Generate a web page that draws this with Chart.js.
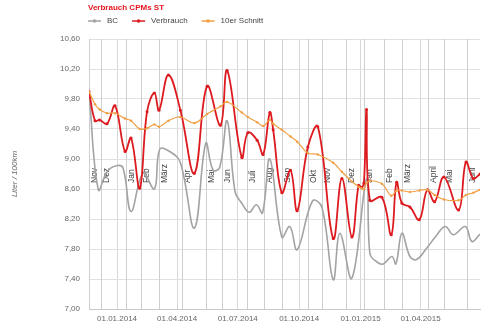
<!DOCTYPE html>
<html>
<head>
<meta charset="utf-8">
<script src="https://cdn.jsdelivr.net/npm/chart.js@4"></script>
<style>
  html, body { margin: 0; padding: 0; background: #fff; }
  #wrap { width: 500px; height: 333px; }
</style>
</head>
<body>
<div id="wrap"><canvas id="fuelChart" width="500" height="333"></canvas></div>
<script>
// Fuel log: one entry per fill-up
const verbrauchDates = [
  '2013-11-20', '2013-11-29', '2013-12-06', '2013-12-17', '2013-12-29', '2014-01-13', '2014-01-22',
  '2014-02-04', '2014-02-15', '2014-02-26', '2014-03-05', '2014-03-19', '2014-04-06', '2014-04-27',
  '2014-05-16', '2014-06-05', '2014-06-15', '2014-07-07', '2014-07-16', '2014-07-30', '2014-08-08',
  '2014-08-18', '2014-08-23', '2014-09-05', '2014-09-18', '2014-09-28', '2014-10-14', '2014-10-29',
  '2014-11-21', '2014-12-04', '2014-12-19', '2014-12-29', '2015-01-02', '2015-01-06', '2015-01-10',
  '2015-01-15', '2015-02-02', '2015-02-16', '2015-02-24', '2015-03-04', '2015-03-16', '2015-03-30',
  '2015-04-11', '2015-04-22', '2015-05-06', '2015-05-28', '2015-06-08', '2015-06-19', '2015-06-29'
];
const verbrauchValues = [
  9.90, 9.51, 9.52, 9.47, 9.71, 9.10, 9.28,
  8.61, 9.63, 9.88, 9.65, 10.12, 9.65, 8.81,
  9.97, 9.45, 10.18, 9.02, 9.35, 9.25, 9.06,
  9.62, 9.39, 8.55, 8.85, 8.31, 9.16, 9.43,
  7.94, 8.74, 7.96, 8.65, 8.62, 8.68, 9.66,
  8.45, 8.49, 7.99, 8.69, 8.41, 8.36, 8.19,
  8.59, 8.43, 8.76, 8.32, 8.96, 8.74, 8.80
];
// rolling average over the last 10 fill-ups
const schnittValues = [
  9.90, 9.73, 9.66, 9.61, 9.61, 9.54, 9.51,
  9.40, 9.41, 9.46, 9.43, 9.51, 9.56, 9.48,
  9.60, 9.70, 9.76, 9.62, 9.56, 9.49, 9.44,
  9.52, 9.47, 9.39, 9.30, 9.23, 9.08, 9.06,
  8.95, 8.83, 8.70, 8.63, 8.61, 8.60, 8.68,
  8.71, 8.67, 8.51, 8.58, 8.58, 8.56, 8.58,
  8.59, 8.52, 8.46, 8.45, 8.52, 8.55, 8.59
];

// on-board computer readings
const bcDates = [
  '2013-11-20', '2013-12-04', '2013-12-17', '2013-12-31', '2014-01-10', '2014-01-22', '2014-02-09',
  '2014-02-26', '2014-03-06', '2014-03-21', '2014-04-06', '2014-04-27', '2014-05-14', '2014-05-25',
  '2014-06-04', '2014-06-15', '2014-06-27', '2014-07-07', '2014-07-18', '2014-07-29', '2014-08-07',
  '2014-08-18', '2014-09-05', '2014-09-17', '2014-09-28', '2014-10-21', '2014-11-04', '2014-11-21',
  '2014-12-01', '2014-12-19', '2015-01-10', '2015-01-15', '2015-01-25', '2015-02-04', '2015-02-17',
  '2015-02-23', '2015-03-04', '2015-03-16', '2015-03-26', '2015-04-10', '2015-04-23', '2015-05-08',
  '2015-05-20', '2015-06-07', '2015-06-17', '2015-06-29'
];
const bcValues = [
  9.90, 8.59, 8.83, 8.91, 8.88, 8.30, 8.81,
  8.60, 9.13, 9.10, 8.95, 8.08, 9.21, 8.85,
  8.89, 9.51, 8.56, 8.41, 8.29, 8.39, 8.28,
  9.00, 7.96, 8.10, 7.79, 8.44, 8.36, 7.39,
  8.01, 7.41, 8.74, 7.74, 7.63, 7.60, 7.70,
  7.60, 8.01, 7.70, 7.66, 7.81, 7.96, 8.10,
  7.99, 8.10, 7.90, 8.00
];

// first fill-up of each month, marked with a plot line
const monthLineDates = [
  '2013-11-20', '2013-12-08', '2014-01-14', '2014-02-06', '2014-03-05', '2014-04-08', '2014-05-14',
  '2014-06-07', '2014-07-15', '2014-08-09', '2014-09-05', '2014-10-14', '2014-11-04', '2014-12-10',
  '2015-01-06', '2015-02-05', '2015-03-04', '2015-04-12', '2015-05-06', '2015-06-10'
];
const monthLineNames = [
  'Nov', 'Dez', 'Jan', 'Feb', 'März', 'Apr', 'Mai',
  'Jun', 'Juli', 'Aug', 'Sep', 'Okt', 'Nov', 'Dez',
  'Jan', 'Feb', 'März', 'April', 'Mai', 'Juni'
];

const axisTickDates = ['2014-01-01', '2014-04-01', '2014-07-01', '2014-10-01', '2015-01-01', '2015-04-01'];
const axisStart = '2013-11-20';
const axisEnd = '2015-06-29';

const FONT = '"Liberation Sans", Arial, sans-serif';
const day = s => Date.parse(s);
const toPoints = (dates, values) => dates.map((d, i) => ({ x: day(d), y: values[i] }));

function fmtDate(ms) {
  const d = new Date(ms);
  const p = n => String(n).padStart(2, '0');
  return p(d.getUTCDate()) + '.' + p(d.getUTCMonth() + 1) + '.' + d.getUTCFullYear();
}

const series = [
  { label: 'BC', color: '#a3a3a3' },
  { label: 'Verbrauch', color: '#dd1a1f' },
  { label: '10er Schnitt', color: '#f0a045' }
];

// month plot lines + rotated labels, drawn under the series
const monthLines = {
  id: 'monthLines',
  beforeDatasetsDraw(chart) {
    const { ctx, chartArea: a, scales: { x } } = chart;
    ctx.save();
    monthLineDates.forEach((d, i) => {
      const px = Math.round(x.getPixelForValue(day(d))) + 0.5;
      ctx.strokeStyle = '#cfcfcf';
      ctx.lineWidth = 1;
      ctx.beginPath();
      ctx.moveTo(px, a.top);
      ctx.lineTo(px, a.bottom);
      ctx.stroke();

      ctx.save();
      ctx.translate(px + 5, 183);
      ctx.rotate(-Math.PI / 2);
      ctx.font = '8.5px ' + FONT;
      ctx.fillStyle = '#444';
      ctx.textAlign = 'left';
      ctx.textBaseline = 'middle';
      ctx.fillText(monthLineNames[i], 0, 0);
      ctx.restore();
    });
    ctx.restore();
  }
};

// title and legend above the plot, Highcharts style
const header = {
  id: 'header',
  afterDraw(chart) {
    const { ctx, chartArea: a } = chart;
    ctx.save();
    ctx.font = 'bold 8px ' + FONT;
    ctx.fillStyle = '#e4141c';
    ctx.textBaseline = 'middle';
    ctx.fillText('Verbrauch CPMs ST', a.left - 1, 8);

    ctx.font = '8px ' + FONT;
    let x = a.left - 1;
    const y = 21;
    series.forEach(s => {
      ctx.strokeStyle = s.color;
      ctx.fillStyle = s.color;
      ctx.lineWidth = 1.5;
      ctx.beginPath();
      ctx.moveTo(x, y);
      ctx.lineTo(x + 13, y);
      ctx.stroke();
      ctx.beginPath();
      ctx.arc(x + 6.5, y, 1.8, 0, Math.PI * 2);
      ctx.fill();
      ctx.fillStyle = '#444';
      ctx.fillText(s.label, x + 19, y);
      x += 19 + ctx.measureText(s.label).width + 14;
    });
    ctx.restore();
  }
};

const ctx = document.getElementById('fuelChart').getContext('2d');
new Chart(ctx, {
  type: 'line',
  data: {
    datasets: [
      {
        label: 'BC',
        data: toPoints(bcDates, bcValues),
        borderColor: series[0].color,
        backgroundColor: series[0].color,
        borderWidth: 1.6,
        pointRadius: 0,
        tension: 0.4,
        order: 3
      },
      {
        label: 'Verbrauch',
        data: toPoints(verbrauchDates, verbrauchValues),
        borderColor: series[1].color,
        backgroundColor: series[1].color,
        borderWidth: 1.8,
        pointRadius: 1.5,
        pointBorderWidth: 0,
        tension: 0.4,
        order: 2
      },
      {
        label: '10er Schnitt',
        data: toPoints(verbrauchDates, schnittValues),
        borderColor: series[2].color,
        backgroundColor: series[2].color,
        borderWidth: 1.2,
        pointRadius: 1.2,
        pointBorderWidth: 0,
        tension: 0.4,
        order: 1
      }
    ]
  },
  options: {
    responsive: false,
    animation: false,
    devicePixelRatio: 1,
    layout: { padding: { top: 39, right: 20, left: 0, bottom: 0 } },
    plugins: {
      legend: { display: false },
      title: { display: false },
      tooltip: { enabled: false }
    },
    scales: {
      x: {
        type: 'linear',
        min: day(axisStart),
        max: day(axisEnd),
        afterBuildTicks: s => { s.ticks = axisTickDates.map(d => ({ value: day(d) })); },
        afterFit: s => { s.height = 24; },
        grid: { color: '#d8d8d8', drawTicks: false },
        border: { color: '#c8c8c8' },
        ticks: {
          autoSkip: false,
          maxRotation: 0,
          padding: 5,
          color: '#666',
          font: { family: FONT, size: 8 },
          callback: v => fmtDate(v)
        }
      },
      y: {
        min: 7,
        max: 10.6,
        afterFit: s => { s.width = 89; },
        grid: { color: '#e0e0e0', drawTicks: false },
        border: { color: '#c8c8c8' },
        ticks: {
          stepSize: 0.4,
          padding: 9,
          color: '#666',
          font: { family: FONT, size: 8 },
          callback: v => v.toFixed(2).replace('.', ',')
        },
        title: {
          display: true,
          text: 'Liter / 100km',
          color: '#666',
          padding: { top: 10, bottom: 0 },
          font: { family: FONT, size: 8, style: 'italic' }
        }
      }
    }
  },
  plugins: [monthLines, header]
});
</script>
</body>
</html>
